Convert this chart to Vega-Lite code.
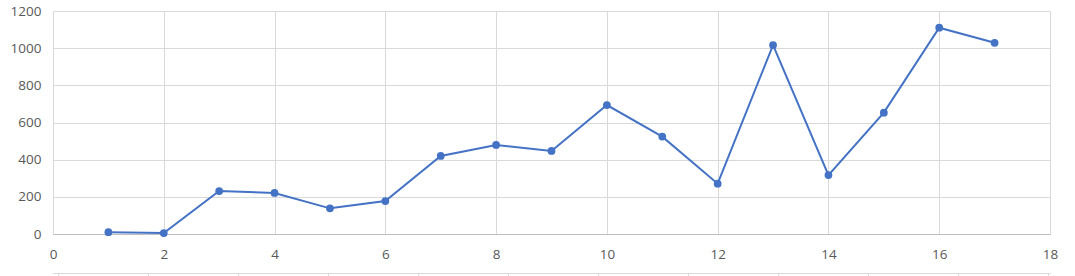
{
  "$schema": "https://vega.github.io/schema/vega-lite/v6.json",
  "width": 997,
  "height": 223,
  "autosize": {"type": "none"},
  "padding": {"left": 53, "top": 11, "right": 25, "bottom": 42},
  "background": "white",
  "config": {
    "view": {"stroke": null},
    "font": "Open Sans"
  },
  "data": {
    "values": [
      {"x": 1, "y": 10},
      {"x": 2, "y": 5},
      {"x": 3, "y": 231},
      {"x": 4, "y": 221},
      {"x": 5, "y": 138},
      {"x": 6, "y": 177},
      {"x": 7, "y": 420},
      {"x": 8, "y": 479},
      {"x": 9, "y": 447},
      {"x": 10, "y": 694},
      {"x": 11, "y": 524},
      {"x": 12, "y": 271},
      {"x": 13, "y": 1017},
      {"x": 14, "y": 317},
      {"x": 15, "y": 653},
      {"x": 16, "y": 1110},
      {"x": 17, "y": 1029}
    ]
  },
  "resolve": {"scale": {"x": "independent"}, "axis": {"x": "independent"}},
  "layer": [
    {
      "encoding": {
        "x": {
          "field": "x",
          "type": "quantitative",
          "scale": {"domain": [0, 18], "nice": false, "zero": false},
          "axis": {
            "title": null,
            "values": [0, 2, 4, 6, 8, 10, 12, 14, 16, 18],
            "format": "d",
            "grid": true,
            "gridColor": "#D9D9D9",
            "gridWidth": 1,
            "domainColor": "#BFBFBF",
            "domainWidth": 1,
            "ticks": false,
            "labelFlush": false,
            "labelPadding": 13,
            "labelFontSize": 13.5,
            "labelColor": "#595959",
            "labelFont": "Open Sans"
          }
        },
        "y": {
          "field": "y",
          "type": "quantitative",
          "scale": {"domain": [0, 1200], "nice": false},
          "axis": {
            "title": null,
            "values": [0, 200, 400, 600, 800, 1000, 1200],
            "format": "d",
            "grid": true,
            "gridColor": "#D9D9D9",
            "gridWidth": 1,
            "domain": false,
            "ticks": false,
            "labelFlush": false,
            "labelPadding": 12,
            "labelFontSize": 13.5,
            "labelColor": "#595959",
            "labelFont": "Open Sans"
          }
        }
      },
      "layer": [
        {"mark": {"type": "line", "color": "#4472C4", "strokeWidth": 2}},
        {"mark": {"type": "point", "filled": true, "color": "#4472C4", "size": 60, "opacity": 1}}
      ]
    },
    {
      "mark": {"type": "point", "opacity": 0},
      "encoding": {
        "x": {
          "field": "x",
          "type": "quantitative",
          "scale": {"domain": [-0.0556, 11.0222], "nice": false, "zero": false},
          "axis": {
            "orient": "bottom",
            "offset": 39,
            "title": null,
            "values": [0, 1, 2, 3, 4, 5, 6, 7, 8, 9, 10, 11],
            "labels": false,
            "grid": false,
            "domainColor": "#D9D9D9",
            "tickColor": "#D9D9D9",
            "tickSize": 4
          }
        }
      }
    }
  ]
}
